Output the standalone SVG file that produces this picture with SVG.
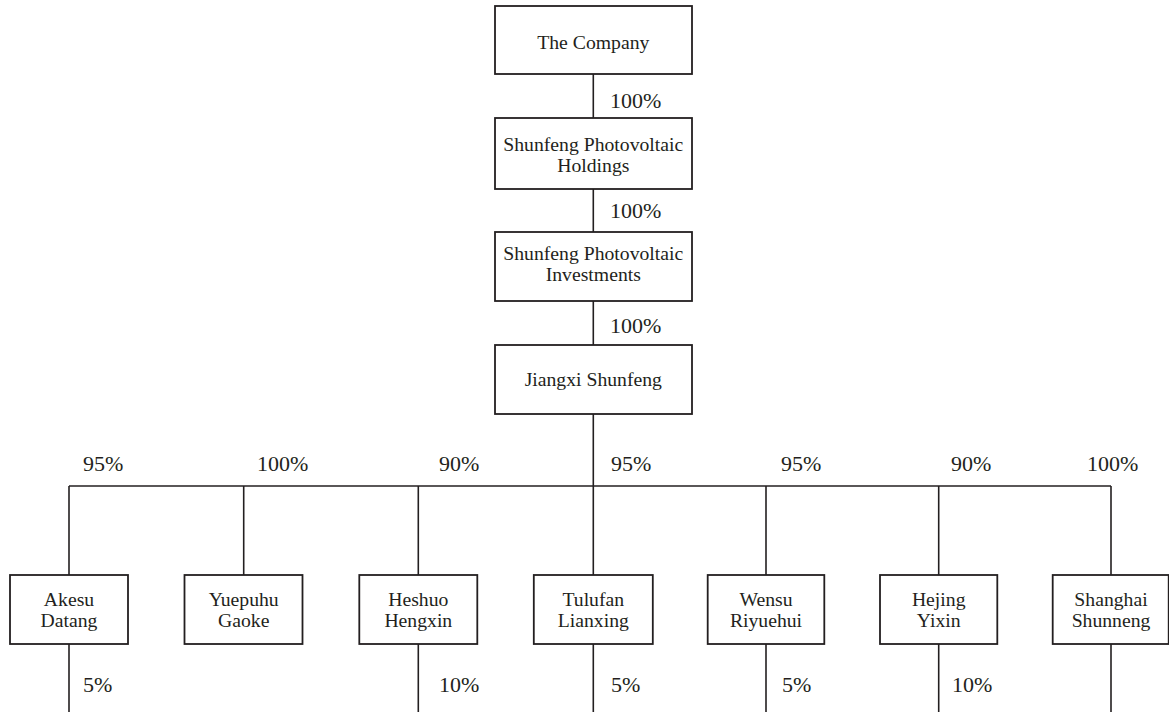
<svg xmlns="http://www.w3.org/2000/svg" width="1169" height="712" viewBox="0 0 1169 712">
<style>
.box{fill:#fff;stroke:#231f20;stroke-width:1.8}
.ln{stroke:#231f20;stroke-width:1.6;fill:none}
.t{font-family:"Liberation Serif",serif;font-size:19.7px;fill:#231f20;text-anchor:middle}
.p{font-family:"Liberation Serif",serif;font-size:22px;fill:#231f20}
</style>
<rect width="1169" height="712" fill="#fff"/>
<g id="connectors">
<line class="ln" x1="593.3" y1="74" x2="593.3" y2="118"/>
<line class="ln" x1="593.3" y1="189" x2="593.3" y2="232"/>
<line class="ln" x1="593.3" y1="301" x2="593.3" y2="345"/>
<line class="ln" x1="593.3" y1="414" x2="593.3" y2="575"/>
<line class="ln" x1="69" y1="486" x2="1111" y2="486"/>
<line class="ln" x1="69" y1="486" x2="69" y2="575"/>
<line class="ln" x1="243.7" y1="486" x2="243.7" y2="575"/>
<line class="ln" x1="418.3" y1="486" x2="418.3" y2="575"/>
<line class="ln" x1="766" y1="486" x2="766" y2="575"/>
<line class="ln" x1="938.7" y1="486" x2="938.7" y2="575"/>
<line class="ln" x1="1111" y1="486" x2="1111" y2="575"/>
<line class="ln" x1="69" y1="644" x2="69" y2="712"/>
<line class="ln" x1="418.3" y1="644" x2="418.3" y2="712"/>
<line class="ln" x1="593.3" y1="644" x2="593.3" y2="712"/>
<line class="ln" x1="766" y1="644" x2="766" y2="712"/>
<line class="ln" x1="938.7" y1="644" x2="938.7" y2="712"/>
<line class="ln" x1="1111" y1="644" x2="1111" y2="712"/>
<text class="p" x="610" y="108">100%</text>
<text class="p" x="610" y="218">100%</text>
<text class="p" x="610" y="333">100%</text>
<text class="p" x="83" y="471">95%</text>
<text class="p" x="257" y="471">100%</text>
<text class="p" x="439" y="471">90%</text>
<text class="p" x="611" y="471">95%</text>
<text class="p" x="781" y="471">95%</text>
<text class="p" x="951" y="471">90%</text>
<text class="p" x="1087" y="471">100%</text>
<text class="p" x="83" y="692">5%</text>
<text class="p" x="439" y="692">10%</text>
<text class="p" x="611" y="692">5%</text>
<text class="p" x="782" y="692">5%</text>
<text class="p" x="952" y="692">10%</text>
</g>
<g id="company"><rect class="box" x="495" y="6" width="197" height="68"/><text class="t" x="593.3" y="49">The Company</text></g>
<g id="holdings"><rect class="box" x="495" y="118" width="197" height="71"/><text class="t" x="593.3" y="150.5">Shunfeng Photovoltaic</text><text class="t" x="593.3" y="171.5">Holdings</text></g>
<g id="investments"><rect class="box" x="495" y="232" width="197" height="69"/><text class="t" x="593.3" y="259.5">Shunfeng Photovoltaic</text><text class="t" x="593.3" y="280.5">Investments</text></g>
<g id="jiangxi"><rect class="box" x="495" y="345" width="197" height="69"/><text class="t" x="593.3" y="386">Jiangxi Shunfeng</text></g>
<g id="akesu"><rect class="box" x="10" y="575" width="118" height="69"/><text class="t" x="69" y="605.5">Akesu</text><text class="t" x="69" y="626.5">Datang</text></g>
<g id="yuepuhu"><rect class="box" x="184.5" y="575" width="118" height="69"/><text class="t" x="243.7" y="605.5">Yuepuhu</text><text class="t" x="243.7" y="626.5">Gaoke</text></g>
<g id="heshuo"><rect class="box" x="359.3" y="575" width="118" height="69"/><text class="t" x="418.3" y="605.5">Heshuo</text><text class="t" x="418.3" y="626.5">Hengxin</text></g>
<g id="tulufan"><rect class="box" x="533.8" y="575" width="119" height="69"/><text class="t" x="593.3" y="605.5">Tulufan</text><text class="t" x="593.3" y="626.5">Lianxing</text></g>
<g id="wensu"><rect class="box" x="707.7" y="575" width="116.6" height="69"/><text class="t" x="766" y="605.5">Wensu</text><text class="t" x="766" y="626.5">Riyuehui</text></g>
<g id="hejing"><rect class="box" x="880" y="575" width="117.3" height="69"/><text class="t" x="938.7" y="605.5">Hejing</text><text class="t" x="938.7" y="626.5">Yixin</text></g>
<g id="shanghai"><rect class="box" x="1052.7" y="575" width="116" height="69"/><text class="t" x="1111" y="605.5">Shanghai</text><text class="t" x="1111" y="626.5">Shunneng</text></g>
</svg>
